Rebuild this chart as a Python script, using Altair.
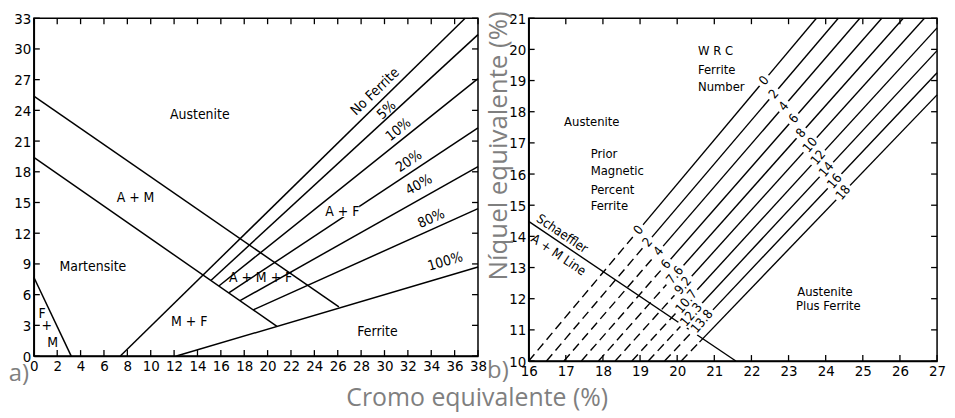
import altair as alt
import pandas as pd

NARROW = "Liberation Sans Narrow, Arial Narrow, DejaVu Sans Condensed, sans-serif"
CAPF = "Open Sans"
GRAY = "#7f7f7f"
RECT = "M-1,-0.32L1,-0.32L1,0.32L-1,0.32Z"

# ---------------- Panel a) : Schaeffler diagram ----------------
a_x0 = [0, 0, 0, 7.4, 12.2, 15.17, 15.83, 16.68, 17.64, 18.77]
a_y0 = [25.4, 19.4, 7.7, 0, 0, 7.4, 6.84, 6.17, 5.41, 4.51]
a_x1 = [26.1, 20.8, 3.2, 36.9, 38, 38, 38, 38, 38, 38]
a_y1 = [4.8, 2.9, 0, 33, 8.7, 31.4, 27.1, 22.3, 18.5, 14.4]

a_text = ["Austenite", "A + M", "Martensite", "F", "+", "M", "M + F", "A + M + F",
          "A + F", "Ferrite", "No Ferrite", "5%", "10%", "20%", "40%", "80%", "100%"]
a_tx = [14.2, 8.7, 5.05, 0.7, 1.1, 1.6, 13.3, 19.4, 26.4, 29.4, 29.2, 30.2, 31.2, 32.1, 32.95, 34.0, 35.2]
a_ty = [23.5, 15.4, 8.7, 4.1, 2.9, 1.3, 3.3, 7.6, 14.1, 2.3, 25.8, 24.0, 22.1, 19.0, 16.7, 13.4, 9.2]
a_ang = [0, 0, 0, 0, 0, 0, 0, 0, 0, 0, 316, 317, 321, 326, 331, 336, 344]

a_xticks = list(range(0, 39, 2))
a_yticks = list(range(0, 34, 3))

# ---------------- Panel b) : WRC diagram ----------------
b_start = [16.0, 16.48, 16.95, 17.42, 17.88, 18.33, 18.78, 19.22, 19.66, 20.11]
b_end_x = [23.75, 24.34, 24.92, 25.51, 26.09, 26.66, 27, 27, 27, 27]
b_end_y = [21, 21, 21, 21, 21, 21, 20.69, 19.96, 19.25, 18.54]
b_fn = ["0", "2", "4", "6", "8", "10", "12", "14", "16", "18"]
b_fn_x = [22.34, 22.6, 22.87, 23.14, 23.34, 23.58, 23.8, 24.02, 24.24, 24.47]
b_pmf = ["0", "2", "4", "6", "7.6", "9.2", "10.7", "12.3", "13.8"]
b_pmf_x = [18.96, 19.2, 19.5, 19.7, 19.94, 20.16, 20.25, 20.38, 20.67]
b_dash_end_x = [18.96, 19.2, 19.5, 19.7, 19.94, 20.16, 20.25, 20.38, 20.67, 20.6]

b_schaeffler = [16.0, 14.48, 21.58, 10.0]

b_text = ["W R C", "Ferrite", "Number", "Prior", "Magnetic", "Percent", "Ferrite",
          "Austenite", "Austenite", "Plus Ferrite", "Schaeffler", "A + M Line"]
b_tx = [20.56, 20.56, 20.56, 17.67, 17.67, 17.67, 17.67, 17.7, 23.98, 24.07, 16.9, 16.8]
b_ty = [19.94, 19.35, 18.8, 16.64, 16.09, 15.5, 14.97, 17.68, 12.2, 11.75, 14.08, 13.4]
b_align = ["left"] * 7 + ["center"] * 5
b_ang = [0, 0, 0, 0, 0, 0, 0, 0, 0, 0, 34, 34]

b_xticks = list(range(16, 28))
b_yticks = list(range(10, 22))

WA, HA = 447, 340
WB, HB = 411, 345
TICK = 6


def make_axis(vals, **kw):
    return alt.Axis(values=vals, ticks=False, grid=False, domain=True, domainColor="black",
                    domainWidth=1.5, labelFont=NARROW, labelFontSize=15, labelColor="black",
                    labelFlush=False, labelPadding=3, labelOverlap=False, **kw)


def on_line(x0, y0, x1, y1, x):
    return y0 + (x - x0) * (y1 - y0) / (x1 - x0)


def tick_layers(xt, yt, sx, sy, ax, ay, W, H):
    dx = pd.DataFrame({"v": xt})
    dy = pd.DataFrame({"v": yt})
    base = dict(color="black", strokeWidth=1.3)
    bot = alt.Chart(dx).mark_rule(**base).encode(
        x=alt.X("v:Q", scale=sx, axis=ax), y=alt.value(H), y2=alt.value(H - TICK))
    top = alt.Chart(dx).mark_rule(**base).encode(
        x=alt.X("v:Q", scale=sx, axis=ax), y=alt.value(0), y2=alt.value(TICK))
    lef = alt.Chart(dy).mark_rule(**base).encode(
        y=alt.Y("v:Q", scale=sy, axis=ay), x=alt.value(0), x2=alt.value(TICK))
    rig = alt.Chart(dy).mark_rule(**base).encode(
        y=alt.Y("v:Q", scale=sy, axis=ay), x=alt.value(W), x2=alt.value(W - TICK))
    return [bot, top, lef, rig]


# ---------- build panel a ----------
sxA = alt.Scale(domain=[0, 38], nice=False, zero=False)
syA = alt.Scale(domain=[0, 33], nice=False, zero=False)
axAx = make_axis(a_xticks, title=None)
axAy = make_axis(a_yticks, title=None)

segA = pd.DataFrame({"x0": a_x0, "y0": a_y0, "x1": a_x1, "y1": a_y1})
linesA = alt.Chart(segA).mark_rule(color="black", strokeWidth=1.5).encode(
    x=alt.X("x0:Q", scale=sxA, axis=axAx), y=alt.Y("y0:Q", scale=syA, axis=axAy),
    x2="x1:Q", y2="y1:Q")

boxA = pd.DataFrame({"x": [26.4], "y": [14.1], "s": [34 ** 2], "a": [0]})
boxesA = alt.Chart(boxA).mark_point(shape=RECT, filled=True, color="white", opacity=1,
                                    strokeWidth=0).encode(
    x=alt.X("x:Q", scale=sxA, axis=axAx), y=alt.Y("y:Q", scale=syA, axis=axAy),
    size=alt.Size("s:Q", scale=None, legend=None), angle=alt.Angle("a:Q", scale=None))

txtA = pd.DataFrame({"t": a_text, "x": a_tx, "y": a_ty, "a": a_ang})
textA = alt.Chart(txtA).mark_text(font=NARROW, fontSize=14, color="black").encode(
    x=alt.X("x:Q", scale=sxA, axis=axAx), y=alt.Y("y:Q", scale=syA, axis=axAy),
    text="t:N", angle=alt.Angle("a:Q", scale=None))

tagA = alt.Chart(pd.DataFrame({"t": ["a)"]})).mark_text(
    font=CAPF, fontSize=24, color=GRAY).encode(
    x=alt.value(-15), y=alt.value(HA + 18), text="t:N")

panelA = alt.layer(linesA, boxesA, textA,
                   *tick_layers(a_xticks, a_yticks, sxA, syA, axAx, axAy, WA, HA),
                   tagA).properties(width=WA, height=HA)

# ---------- build panel b ----------
sxB = alt.Scale(domain=[16, 27], nice=False, zero=False)
syB = alt.Scale(domain=[10, 21], nice=False, zero=False)
axBx = make_axis(b_xticks, title=None)
axBy = make_axis(b_yticks, title="Níquel equivalente (%)", titleFont=CAPF, titleFontSize=26,
                 titleColor=GRAY, titleFontWeight="normal", titleAngle=270, titleX=-30,
                 titleY=128, titleAlign="center", titleBaseline="middle")

dash_rows, solid_rows = [], []
for i in range(len(b_start)):
    xb = b_dash_end_x[i]
    yb = on_line(b_start[i], 10, b_end_x[i], b_end_y[i], xb)
    dash_rows.append({"x0": b_start[i], "y0": 10, "x1": xb, "y1": yb})
    solid_rows.append({"x0": xb, "y0": yb, "x1": b_end_x[i], "y1": b_end_y[i]})
solid_rows.append({"x0": b_schaeffler[0], "y0": b_schaeffler[1],
                   "x1": b_schaeffler[2], "y1": b_schaeffler[3]})

dashB = alt.Chart(pd.DataFrame(dash_rows)).mark_rule(
    color="black", strokeWidth=1.4, strokeDash=[9, 5]).encode(
    x=alt.X("x0:Q", scale=sxB, axis=axBx), y=alt.Y("y0:Q", scale=syB, axis=axBy),
    x2="x1:Q", y2="y1:Q")
solidB = alt.Chart(pd.DataFrame(solid_rows)).mark_rule(
    color="black", strokeWidth=1.4).encode(
    x=alt.X("x0:Q", scale=sxB, axis=axBx), y=alt.Y("y0:Q", scale=syB, axis=axBy),
    x2="x1:Q", y2="y1:Q")

lab_rows = []
for i, t in enumerate(b_fn):
    x = b_fn_x[i]
    y = on_line(b_start[i], 10, b_end_x[i], b_end_y[i], x)
    lab_rows.append({"t": t, "x": x, "y": y, "s": (8 + 6 * len(t)) ** 2, "a": 310})
for i, t in enumerate(b_pmf):
    x = b_pmf_x[i]
    y = on_line(b_start[i], 10, b_end_x[i], b_end_y[i], x)
    lab_rows.append({"t": t, "x": x, "y": y, "s": (8 + 6 * len(t)) ** 2, "a": 310})
labB = pd.DataFrame(lab_rows)

boxesB = alt.Chart(labB).mark_point(shape=RECT, filled=True, color="white", opacity=1,
                                    strokeWidth=0).encode(
    x=alt.X("x:Q", scale=sxB, axis=axBx), y=alt.Y("y:Q", scale=syB, axis=axBy),
    size=alt.Size("s:Q", scale=None, legend=None), angle=alt.Angle("a:Q", scale=None))
numsB = alt.Chart(labB).mark_text(font=NARROW, fontSize=13, color="black").encode(
    x=alt.X("x:Q", scale=sxB, axis=axBx), y=alt.Y("y:Q", scale=syB, axis=axBy),
    text="t:N", angle=alt.Angle("a:Q", scale=None))

txtB = pd.DataFrame({"t": b_text, "x": b_tx, "y": b_ty, "a": b_ang, "al": b_align})
textB_left = alt.Chart(txtB[txtB["al"] == "left"]).mark_text(
    font=NARROW, fontSize=13, color="black", align="left").encode(
    x=alt.X("x:Q", scale=sxB, axis=axBx), y=alt.Y("y:Q", scale=syB, axis=axBy),
    text="t:N", angle=alt.Angle("a:Q", scale=None))
textB_center = alt.Chart(txtB[txtB["al"] == "center"]).mark_text(
    font=NARROW, fontSize=13, color="black", align="center").encode(
    x=alt.X("x:Q", scale=sxB, axis=axBx), y=alt.Y("y:Q", scale=syB, axis=axBy),
    text="t:N", angle=alt.Angle("a:Q", scale=None))

tagB = alt.Chart(pd.DataFrame({"t": ["b)"]})).mark_text(
    font=CAPF, fontSize=24, color=GRAY).encode(
    x=alt.value(-31), y=alt.value(HB + 10), text="t:N")

panelB = alt.layer(dashB, solidB, boxesB, numsB, textB_left, textB_center,
                   *tick_layers(b_xticks, b_yticks, sxB, syB, axBx, axBy, WB, HB),
                   tagB).properties(width=WB, height=HB)

chart = alt.hconcat(panelA, panelB, spacing=-3).properties(
    title=alt.TitleParams("Cromo equivalente (%)", orient="bottom", anchor="middle",
                          font=CAPF, fontSize=25, color=GRAY, fontWeight="normal", offset=-1),
    padding={"left": 0, "top": 0, "right": 0, "bottom": 0},
).configure_view(stroke="black", strokeWidth=1.5)

chart.save("out.html", embed_options={"renderer": "svg", "actions": False})
